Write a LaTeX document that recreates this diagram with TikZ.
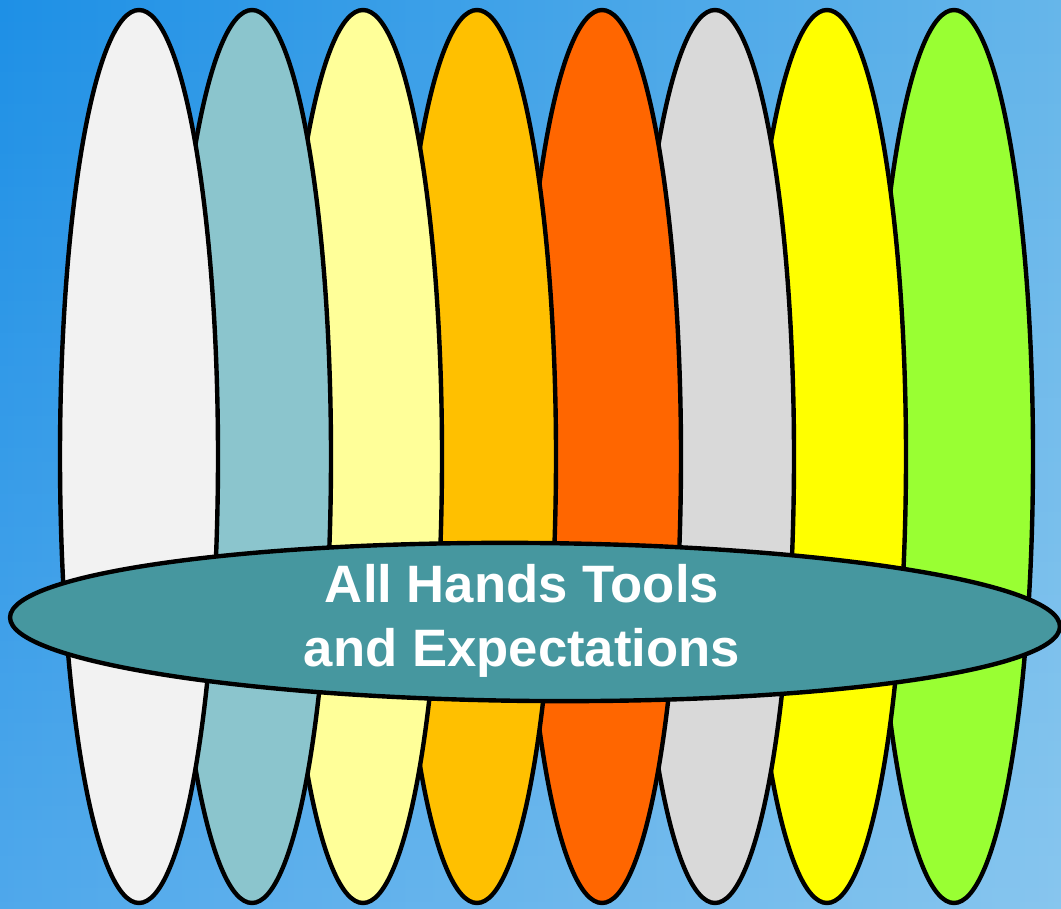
\documentclass[tikz,border=0pt]{standalone}
\usepackage{fontspec}
\setmainfont{Liberation Sans}
\usetikzlibrary{shapes.geometric,fadings}
\definecolor{bgL}{HTML}{1E90E6}
\definecolor{bgR}{HTML}{66B6EA}
\definecolor{cWhite}{HTML}{F2F2F2}
\definecolor{cTeal}{HTML}{8BC5CD}
\definecolor{cLYellow}{HTML}{FFFF99}
\definecolor{cOrange}{HTML}{FFC000}
\definecolor{cRed}{HTML}{FF6600}
\definecolor{cGray}{HTML}{D9D9D9}
\definecolor{cYellow}{HTML}{FFFF00}
\definecolor{cGreen}{HTML}{99FF33}
\definecolor{cBand}{HTML}{46979F}
\begin{document}
\begin{tikzpicture}[x=0.75pt,y=-0.75pt,
  petal/.style={ellipse, draw=black, line width=3.3pt, minimum width=118.5pt, minimum height=669.75pt, inner sep=0pt},
  band/.style={ellipse, draw=black, line width=3.3pt, fill=cBand, minimum width=787.5pt, minimum height=118.5pt, inner sep=0pt},
  title/.style={text=white, font=\bfseries\fontsize{39.5}{48}\selectfont, align=center, inner sep=0pt}]
\useasboundingbox (0,0) rectangle (1061,909);
\shade[left color=bgL, right color=bgR] (0,0) rectangle (1061,909);
\fill[white, opacity=0.22, path fading=north] (0,0) rectangle (1061,909);
\node[petal, fill=cGreen]   (p8) at (954,456.5) {};
\node[petal, fill=cYellow]  (p7) at (827,456.5) {};
\node[petal, fill=cGray]    (p6) at (715,456.5) {};
\node[petal, fill=cRed]     (p5) at (602,456.5) {};
\node[petal, fill=cOrange]  (p4) at (477,456.5) {};
\node[petal, fill=cLYellow] (p3) at (363,456.5) {};
\node[petal, fill=cTeal]    (p2) at (252,456.5) {};
\node[petal, fill=cWhite]   (p1) at (139,456.5) {};
\node[band, rotate=-0.5] (b) at (535,622) {};
\node[title] (t) at (522,621) {All Hands Tools\\and Expectations};
\end{tikzpicture}
\end{document}
